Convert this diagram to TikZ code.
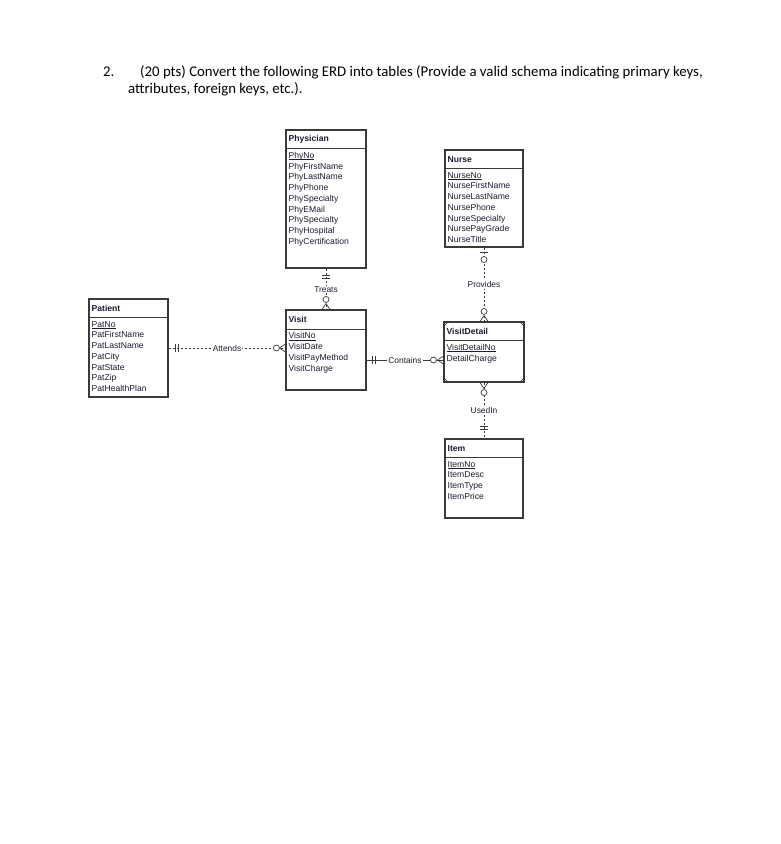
\documentclass[tikz,border=0pt]{standalone}
\usepackage{fontspec}
\setmainfont{Liberation Sans}
\newfontfamily\titlefont{Carlito}
\usetikzlibrary{calc,positioning}
\definecolor{edge}{HTML}{3A3A3A}
\definecolor{ink}{HTML}{1C1C30}
\newcommand\pkey[1]{\setbox0\hbox{#1}\rlap{\rule[-1.3pt]{\wd0}{0.5pt}}\box0}
\tikzset{
  ent/.style={draw=edge, line width=1.1pt, inner sep=0pt},
  head/.style={anchor=west, inner sep=0pt, font=\fontsize{8.6}{10}\selectfont\bfseries, text=ink},
  attr/.style={anchor=north west, inner sep=0pt, align=left, font=\fontsize{8.6}{10.75}\selectfont, text=ink},
  rel/.style={draw=edge, line width=0.6pt, dash pattern=on 2.5pt off 1.5pt},
  idrel/.style={draw=edge, line width=0.6pt},
  sym/.style={draw=edge, line width=0.7pt},
  zero/.style={circle, draw=edge, fill=white, line width=0.7pt, inner sep=0pt, minimum size=6pt},
  rlab/.style={fill=white, inner sep=1pt, font=\fontsize{8.4}{9}\selectfont, text=ink},
  qtext/.style={anchor=base west, inner sep=0pt, font=\titlefont\fontsize{14.8}{17}\selectfont},
}
\begin{document}
\begin{tikzpicture}[x=1pt,y=-1pt]
  \fill[white] (0,0) rectangle (780,844);
  \useasboundingbox (0,0) rectangle (780,844);

  % question
  \node[qtext] (qnum) at (103,76) {2.};
  \node[qtext] (qline1) at (140,76) {(20 pts) Convert the following ERD into tables (Provide a valid schema indicating primary keys,};
  \node[qtext] (qline2) at (128,93) {attributes, foreign keys, etc.).};

  % entities
  \node[ent, minimum width=80pt, minimum height=138pt] (phys) at (326,199) {};
  \node[ent, minimum width=78pt, minimum height=97pt] (nurse) at (484,198.5) {};
  \node[ent, minimum width=79pt, minimum height=98pt] (pat) at (128.5,348) {};
  \node[ent, minimum width=80pt, minimum height=80pt] (visit) at (326,350) {};
  \node[ent, minimum width=80pt, minimum height=60pt] (det) at (484,352) {};
  \node[ent, minimum width=78pt, minimum height=79pt] (item) at (484,478.5) {};

  \draw[ent] ([yshift=-19pt]phys.north west) -- ([yshift=-19pt]phys.north east);
  \draw[ent] ([yshift=-19pt]nurse.north west) -- ([yshift=-19pt]nurse.north east);
  \draw[ent] ([yshift=-19pt]pat.north west) -- ([yshift=-19pt]pat.north east);
  \draw[ent] ([yshift=-20pt]visit.north west) -- ([yshift=-20pt]visit.north east);
  \draw[ent] ([yshift=-19pt]det.north west) -- ([yshift=-19pt]det.north east);
  \draw[ent] ([yshift=-19pt]item.north west) -- ([yshift=-19pt]item.north east);

  % corner marks of VisitDetail
  \draw[sym] ($(det.north west)+(5,0)$) -- ($(det.north west)+(0,5)$);
  \draw[sym] ($(det.north east)+(-5,0)$) -- ($(det.north east)+(0,5)$);
  \draw[sym] ($(det.south west)+(5,0)$) -- ($(det.south west)+(0,-5)$);
  \draw[sym] ($(det.south east)+(-5,0)$) -- ($(det.south east)+(0,-5)$);

  \node[head] (physT) at ([xshift=3pt,yshift=-10pt]phys.north west) {Physician};
  \node[attr] (physA) at ([xshift=3pt,yshift=-22.5pt]phys.north west)
    {\pkey{PhyNo}\\PhyFirstName\\PhyLastName\\PhyPhone\\PhySpecialty\\PhyEMail\\PhySpecialty\\PhyHospital\\PhyCertification};
  \node[head] (nurseT) at ([xshift=3pt,yshift=-10pt]nurse.north west) {Nurse};
  \node[attr] (nurseA) at ([xshift=3pt,yshift=-22.5pt]nurse.north west)
    {\pkey{NurseNo}\\NurseFirstName\\NurseLastName\\NursePhone\\NurseSpecialty\\NursePayGrade\\NurseTitle};
  \node[head] (patT) at ([xshift=3pt,yshift=-10pt]pat.north west) {Patient};
  \node[attr] (patA) at ([xshift=3pt,yshift=-22.5pt]pat.north west)
    {\pkey{PatNo}\\PatFirstName\\PatLastName\\PatCity\\PatState\\PatZip\\PatHealthPlan};
  \node[head] (visitT) at ([xshift=3pt,yshift=-10pt]visit.north west) {Visit};
  \node[attr] (visitA) at ([xshift=3pt,yshift=-23pt]visit.north west)
    {\pkey{VisitNo}\\VisitDate\\VisitPayMethod\\VisitCharge};
  \node[head] (detT) at ([xshift=3pt,yshift=-10pt]det.north west) {VisitDetail};
  \node[attr] (detA) at ([xshift=3pt,yshift=-22.5pt]det.north west)
    {\pkey{VisitDetailNo}\\DetailCharge};
  \node[head] (itemT) at ([xshift=3pt,yshift=-10pt]item.north west) {Item};
  \node[attr] (itemA) at ([xshift=3pt,yshift=-22.5pt]item.north west)
    {\pkey{ItemNo}\\ItemDesc\\ItemType\\ItemPrice};

  % Attends
  \coordinate (attV) at (pat.east -| visit.west);
  \draw[rel] (pat.east) -- (attV);
  \draw[sym] ($(pat.east)+(7,-4)$) -- ++(0,8) ($(pat.east)+(10,-4)$) -- ++(0,8);
  \node[rlab] (attends) at ($(pat.east)!0.5!(attV)$) {Attends};
  \draw[sym] ($(attV)+(-6,0)$) -- ++(6,-4) ($(attV)+(-6,0)$) -- ++(6,4);
  \node[zero] (attZ) at ($(attV)+(-9,0)$) {};

  % Treats
  \draw[rel] (phys.south) -- (visit.north);
  \draw[sym] ($(phys.south)+(-4,7)$) -- ++(8,0) ($(phys.south)+(-4,10)$) -- ++(8,0);
  \node[rlab] (treats) at ($(phys.south)+(0,21)$) {Treats};
  \draw[sym] ($(visit.north)+(0,-6)$) -- ++(-4,6) ($(visit.north)+(0,-6)$) -- ++(4,6);
  \node[zero] (treatsZ) at ($(visit.north)+(0,-10)$) {};

  % Contains
  \coordinate (conA) at ([yshift=-10pt]visit.east);
  \coordinate (conB) at (conA -| det.west);
  \draw[idrel] (conA) -- (conB);
  \draw[sym] ($(conA)+(6,-4)$) -- ++(0,8) ($(conA)+(9,-4)$) -- ++(0,8);
  \node[rlab] (contains) at ($(conA)!0.5!(conB)$) {Contains};
  \draw[sym] ($(conB)+(-6,0)$) -- ++(6,-4) ($(conB)+(-6,0)$) -- ++(6,4);
  \node[zero] (conZ) at ($(conB)+(-10,0)$) {};

  % Provides
  \draw[rel] (nurse.south) -- (det.north);
  \draw[sym] ($(nurse.south)+(-4,5)$) -- ++(8,0);
  \node[zero] (provZ1) at ($(nurse.south)+(0,12)$) {};
  \node[rlab] (provides) at ($(nurse.south)!0.5!(det.north)$) {Provides};
  \draw[sym] ($(det.north)+(0,-6)$) -- ++(-4,6) ($(det.north)+(0,-6)$) -- ++(4,6);
  \node[zero] (provZ2) at ($(det.north)+(0,-10)$) {};

  % UsedIn
  \draw[rel] (det.south) -- (item.north);
  \draw[sym] ($(det.south)+(0,6)$) -- ++(-4,-6) ($(det.south)+(0,6)$) -- ++(4,-6);
  \node[zero] (usedZ) at ($(det.south)+(0,10)$) {};
  \node[rlab] (usedin) at ($(det.south)!0.5!(item.north)$) {UsedIn};
  \draw[sym] ($(item.north)+(-4,-12)$) -- ++(8,0) ($(item.north)+(-4,-9)$) -- ++(8,0);
\end{tikzpicture}
\end{document}
